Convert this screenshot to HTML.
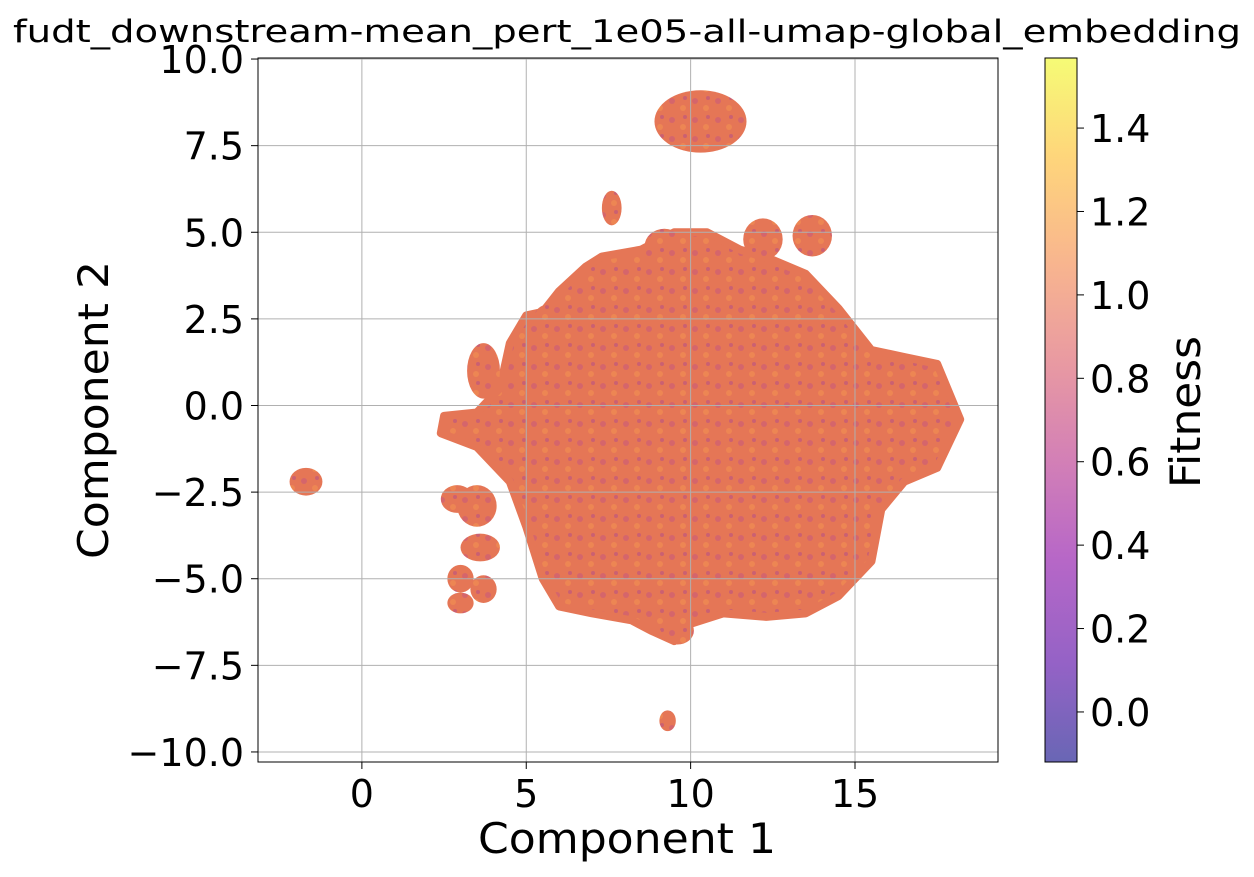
<!DOCTYPE html>
<html><head><meta charset="utf-8"><style>
body{margin:0;background:#fff;}
svg text{font-family:"DejaVu Sans","Liberation Sans",sans-serif;fill:#000;}
</style></head><body>
<svg id="chart" width="1254" height="872">
<defs>
<linearGradient id="plasma" x1="0" y1="1" x2="0" y2="0">
<stop offset="0" stop-color="#0d0887"/><stop offset="0.14" stop-color="#5302a3"/>
<stop offset="0.29" stop-color="#8b0aa5"/><stop offset="0.43" stop-color="#b83289"/>
<stop offset="0.57" stop-color="#db5c68"/><stop offset="0.71" stop-color="#f48849"/>
<stop offset="0.86" stop-color="#febc2a"/><stop offset="1" stop-color="#f0f921"/>
</linearGradient>
<pattern id="speck" width="23" height="19" patternUnits="userSpaceOnUse">
<rect width="23" height="19" fill="#e57656"/>
<circle cx="5" cy="6" r="3" fill="#c95a7a" opacity="0.6"/>
<circle cx="16" cy="13" r="3" fill="#ef8a52" opacity="0.8"/>
<circle cx="18" cy="3" r="2" fill="#a43f98" opacity="0.4"/>
</pattern>
</defs>
<text x="627" y="42" font-size="31" text-anchor="middle" textLength="1228" lengthAdjust="spacingAndGlyphs">fudt_downstream-mean_pert_1e05-all-umap-global_embedding</text>
<g id="plot"></g>
<g id="cbar"></g>
<text x="627" y="853" font-size="42" text-anchor="middle" textLength="298" lengthAdjust="spacingAndGlyphs">Component 1</text>
<text transform="translate(108,410) rotate(-90)" font-size="42" text-anchor="middle" textLength="298" lengthAdjust="spacingAndGlyphs">Component 2</text>
<text transform="translate(1200,412) rotate(-90)" font-size="42" text-anchor="middle" textLength="152" lengthAdjust="spacingAndGlyphs">Fitness</text>
</svg>
<script>
const xTicks=[0,5,10,15];
const yTicks=[-10,-7.5,-5,-2.5,0,2.5,5,7.5,10];
const yTickLabels=["\u221210.0","\u22127.5","\u22125.0","\u22122.5","0.0","2.5","5.0","7.5","10.0"];
const cTicks=[0,0.2,0.4,0.6,0.8,1.0,1.2,1.4];
const mainX=[7.3,8.5,9.5,10.5,11.5,12.5,13.5,14.5,15.5,16.5,17.5,18.2,17.5,16.5,15.8,15.5,14.5,13.5,12.3,11,10,9.5,8.8,8.2,7,6,5.5,5,4.5,3.5,2.4,2.5,3.5,4.2,4.5,5,5.5,6,6.8];
const mainY=[4.3,4.5,5.0,5.0,4.5,4.2,3.8,2.8,1.6,1.4,1.2,-0.4,-1.8,-2.2,-3.0,-4.5,-5.5,-6.0,-6.1,-6.0,-6.3,-6.8,-6.5,-6.2,-6.0,-5.8,-5.0,-3.5,-2.2,-1.2,-0.8,-0.3,-0.2,0.5,1.8,2.6,2.7,3.3,4.0];
const clX=[10.3,7.6,9.2,12.2,13.7,-1.7,3.7,2.9,3.5,3.6,3.0,3.0,3.7,9.3,9.6,5.6];
const clY=[8.2,5.7,4.6,4.8,4.9,-2.2,1.0,-2.7,-2.9,-4.1,-5.0,-5.7,-5.3,-9.1,-6.5,2.4];
const clRX=[1.4,0.3,0.6,0.6,0.6,0.5,0.5,0.5,0.6,0.6,0.4,0.4,0.4,0.25,0.5,0.4];
const clRY=[0.9,0.5,0.5,0.6,0.6,0.4,0.8,0.4,0.6,0.4,0.4,0.3,0.4,0.3,0.4,0.5];
const NS="http://www.w3.org/2000/svg";
const L=258,R=998,T=58,B=762,x0=-3.16,x1=19.35,y0=-10.29,y1=10.03;
const sx=v=>L+(v-x0)/(x1-x0)*(R-L), sy=v=>B-(v-y0)/(y1-y0)*(B-T);
const sxd=v=>v/(x1-x0)*(R-L), syd=v=>v/(y1-y0)*(B-T);
const c0=-0.12,c1=1.568,cy=v=>B-(v-c0)/(c1-c0)*(B-T);
function mk(t,a,p){const e=document.createElementNS(NS,t);for(const k in a)e.setAttribute(k,a[k]);p.appendChild(e);return e;}
const plot=document.getElementById('plot'),cb=document.getElementById('cbar');
const pts=mainX.map((v,i)=>sx(v)+','+sy(mainY[i])).join(' ');
const poly=mk('polygon',{points:pts,fill:'url(#speck)',stroke:'#e57656','stroke-width':8,'stroke-linejoin':'round'},plot);


clX.forEach((v,i)=>{const e=mk('ellipse',{cx:sx(v),cy:sy(clY[i]),rx:sxd(clRX[i]),ry:syd(clRY[i]),fill:'url(#speck)'},plot);

});
xTicks.forEach(v=>{const g=mk('line',{x1:sx(v),x2:sx(v),y1:T,y2:B,stroke:'#b0b0b0','stroke-width':1},plot);

mk('line',{x1:sx(v),x2:sx(v),y1:B,y2:B+7,stroke:'#000'},plot);
const t=mk('text',{x:sx(v),y:B+45,'font-size':38,'text-anchor':'middle'},plot);t.textContent=v;
});
yTicks.forEach((v,i)=>{const g=mk('line',{x1:L,x2:R,y1:sy(v),y2:sy(v),stroke:'#b0b0b0','stroke-width':1},plot);

mk('line',{x1:L-7,x2:L,y1:sy(v),y2:sy(v),stroke:'#000'},plot);
const t=mk('text',{x:L-14,y:sy(v)+14,'font-size':38,'text-anchor':'end'},plot);t.textContent=yTickLabels[i];
});
const fr=mk('rect',{x:L,y:T,width:R-L,height:B-T,fill:'none',stroke:'#000','stroke-width':1},plot);

const bar=mk('rect',{x:1045,y:T,width:32,height:B-T,fill:'url(#plasma)','fill-opacity':0.62,stroke:'#000'},cb);

cTicks.forEach(v=>{mk('line',{x1:1077,x2:1084,y1:cy(v),y2:cy(v),stroke:'#000'},cb);
const t=mk('text',{x:1090,y:cy(v)+14,'font-size':38},cb);t.textContent=v.toFixed(1);
});
</script>
</body></html>
